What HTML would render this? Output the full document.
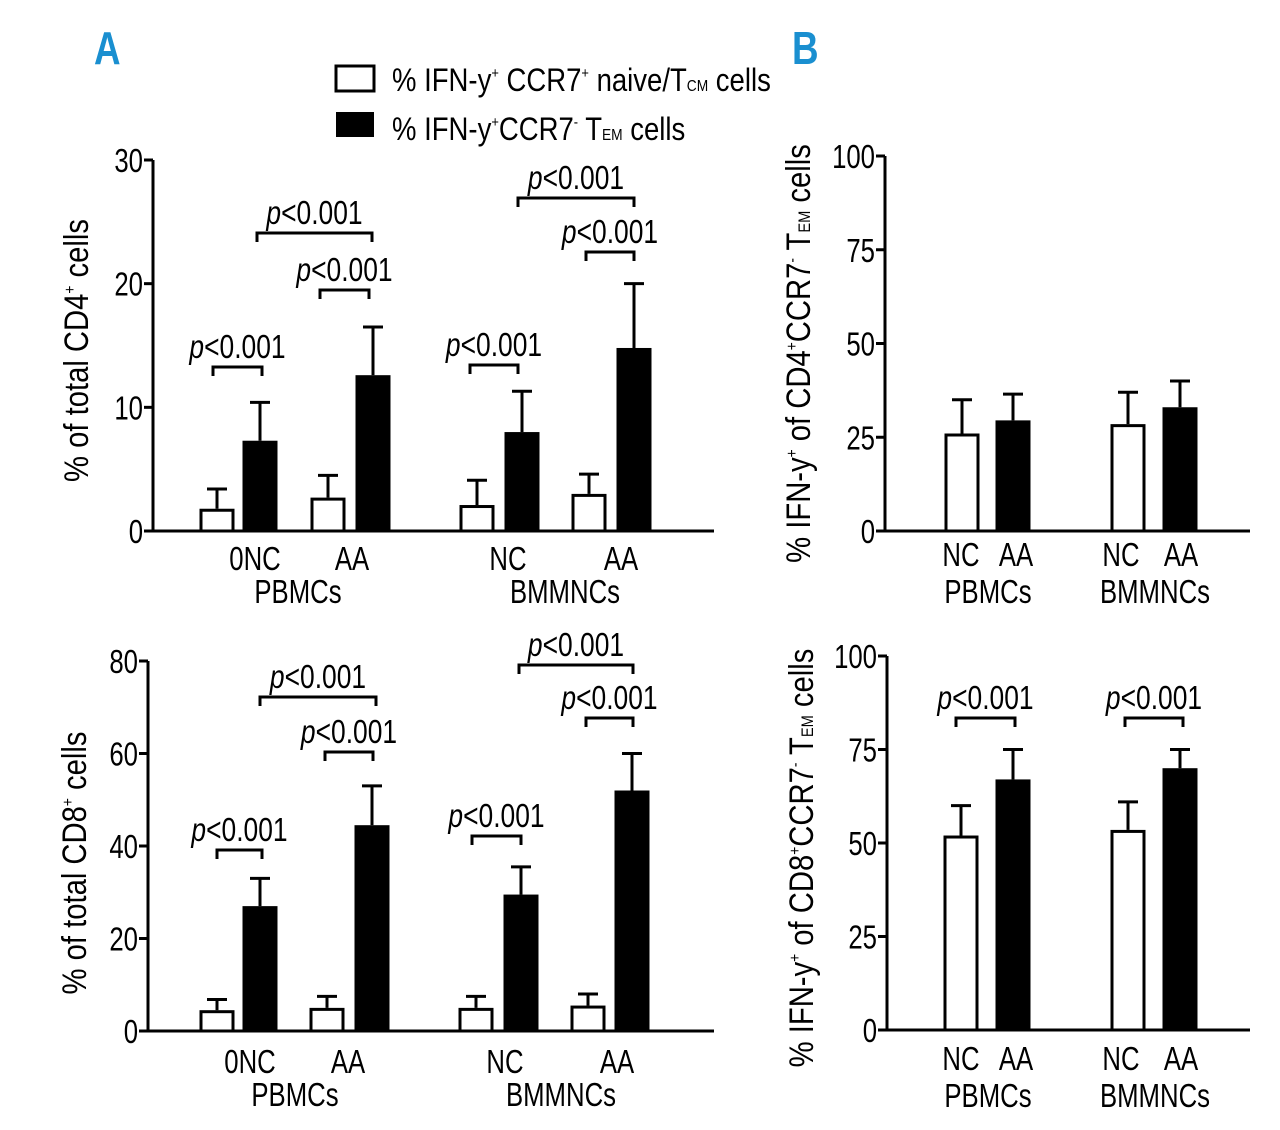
<!DOCTYPE html>
<html><head><meta charset="utf-8"><style>
body{margin:0;background:#fff}
svg{display:block;font-family:"Liberation Sans",sans-serif}
</style></head><body>
<svg id="fig" width="1280" height="1130" viewBox="0 0 1280 1130">
<text font-size="46" font-weight="bold" fill="#1a8fd0" transform="translate(94,64) scale(0.8,1)">A</text>
<text font-size="46" font-weight="bold" fill="#1a8fd0" transform="translate(792,64) scale(0.8,1)">B</text>
<g>
<rect x="336" y="66" width="38" height="25" fill="#fff" stroke="#000" stroke-width="3"/>
<rect x="336" y="112" width="38" height="25" fill="#000"/>
<text transform="translate(392,91) scale(0.86,1)" font-size="32">% IFN-y<tspan font-size="15" dy="-13">+</tspan><tspan dy="13"> CCR7</tspan><tspan font-size="15" dy="-13">+</tspan><tspan dy="13"> naive/T</tspan><tspan font-size="16">CM</tspan> cells</text>
<text transform="translate(392,140) scale(0.86,1)" font-size="32">% IFN-y<tspan font-size="15" dy="-13">+</tspan><tspan dy="13">CCR7</tspan><tspan font-size="15" dy="-13">-</tspan><tspan dy="13"> T</tspan><tspan font-size="16">EM</tspan> cells</text>
</g>
</svg>
<script>
// Data arrays
const cd4Open=[1.8,2.7,2.1,3.0], cd4OpenErr=[3.4,4.5,4.1,4.6];
const cd4Filled=[7.3,12.6,8.0,14.8], cd4FilledErr=[10.4,16.5,11.3,20.0];
const cd8Open=[4.5,5.0,5.0,5.5], cd8OpenErr=[6.8,7.5,7.5,8.0];
const cd8Filled=[27,44.5,29.5,52], cd8FilledErr=[33,53,35.5,60];
const temCd4Open=[26,28.5], temCd4OpenErr=[35,37];
const temCd4Filled=[29.5,33], temCd4FilledErr=[36.5,40];
const temCd8Open=[52,53.5], temCd8OpenErr=[60,61];
const temCd8Filled=[67,70], temCd8FilledErr=[75,75];
const ticksA1=[0,10,20,30], ticksA2=[0,20,40,60,80], ticksB=[0,25,50,75,100];

const NS="http://www.w3.org/2000/svg";
const svg=document.getElementById('fig');
function el(tag,attrs,parent){const e=document.createElementNS(NS,tag);for(const k in attrs)e.setAttribute(k,attrs[k]);(parent||svg).appendChild(e);return e;}
function txt(x,y,s,size,anchor,parent,rot,sx){
  const t=el('text',{transform:`translate(${x},${y})${rot?' rotate(-90)':''} scale(${sx||0.8},1)`,'font-size':size,'text-anchor':anchor||'middle'},parent);
  t.innerHTML=s;return t;}

function panel(cfg){
  const g=el('g',{});
  
  
  const y=v=>cfg.y0-(v/cfg.max)*(cfg.y0-cfg.yTop);
  const ax=el('path',{d:`M${cfg.ax},${cfg.yTop}V${cfg.y0}H${cfg.xEnd}`,stroke:'#000','stroke-width':3,fill:'none'},g);
  
  
  cfg.ticks.forEach(t=>{
    el('line',{x1:cfg.ax-9,x2:cfg.ax,y1:y(t),y2:y(t),stroke:'#000','stroke-width':3},g);
    const l=txt(cfg.ax-10,y(t)+12,String(t),33,'end',g,false,0.78);
    
    
  });
  const bw=35;
  function bar(cx,v,e,filled){
    el('line',{x1:cx,x2:cx,y1:y(v),y2:y(e),stroke:'#000','stroke-width':3},g);
    el('line',{x1:cx-10,x2:cx+10,y1:y(e),y2:y(e),stroke:'#000','stroke-width':3},g);
    const r=el('rect',{x:cx-bw/2+(filled?0:1.5),y:y(v)+(filled?0:1.5),width:filled?bw:bw-3,height:cfg.y0-y(v)-(filled?0:1.5),fill:filled?'#000':'#fff',stroke:filled?'none':'#000','stroke-width':3},g);
    
    
  }
  cfg.open.forEach((v,i)=>bar(cfg.openX[i],v,cfg.openErr[i],false));
  cfg.filled.forEach((v,i)=>bar(cfg.filledX[i],v,cfg.filledErr[i],true));
  cfg.labels.forEach(l=>{const t=txt(l[0],l[1]+2,l[2],33,'middle',g,false,0.78);
    
    });
  cfg.brackets.forEach(b=>{
    const p=el('path',{d:`M${b[0]},${b[2]+9}V${b[2]}H${b[1]}V${b[2]+9}`,stroke:'#000','stroke-width':3,fill:'none'},g);
    
    
    const t=txt((b[0]+b[1])/2,b[2]-9,'<tspan font-style="italic">p</tspan>&lt;0.001',33,'middle',g,false,0.8);
    
    
  });
  const yt=txt(cfg.titleX,(cfg.yTop+cfg.y0)/2+cfg.titleDy,cfg.title,cfg.tsize||33,'middle',g,true,0.86);
  
  
}
const sup=s=>`<tspan font-size="16" dy="-13">${s}</tspan><tspan dy="13">`;
panel({name:'chart-cd4',ax:153,yTop:160,y0:531,xEnd:714,max:30,ticks:ticksA1,
 open:cd4Open,openErr:cd4OpenErr,filled:cd4Filled,filledErr:cd4FilledErr,
 openX:[217,328,477,589],filledX:[260,373,522,634],
 labels:[[255,568,'0NC'],[352,568,'AA'],[298,601,'PBMCs'],[508,568,'NC'],[621,568,'AA'],[565,601,'BMMNCs']],
 brackets:[[213,262,367],[320,369,290],[257,372,233],[470,518,365],[586,634,252],[518,634,198]],
 title:`% of total CD4${sup('+')} cells</tspan>`,titleX:88,titleDy:5,tsize:34});
panel({name:'chart-cd8',ax:148,yTop:661,y0:1031,xEnd:714,max:80,ticks:ticksA2,
 open:cd8Open,openErr:cd8OpenErr,filled:cd8Filled,filledErr:cd8FilledErr,
 openX:[217,327,476,588],filledX:[260,372,521,632],
 labels:[[250,1071,'0NC'],[348,1071,'AA'],[295,1104,'PBMCs'],[505,1071,'NC'],[617,1071,'AA'],[561,1104,'BMMNCs']],
 brackets:[[217,262,850],[325,373,752],[260,376,697],[472,521,836],[586,633,718],[519,633,665]],
 title:`% of total CD8${sup('+')} cells</tspan>`,titleX:86,titleDy:17,tsize:34});
panel({name:'chart-cd4-tem',ax:885,yTop:156,y0:531,xEnd:1250,max:100,ticks:ticksB,
 open:temCd4Open,openErr:temCd4OpenErr,filled:temCd4Filled,filledErr:temCd4FilledErr,
 openX:[962,1128],filledX:[1013,1180],
 labels:[[961,564,'NC'],[1016,564,'AA'],[988,601,'PBMCs'],[1121,564,'NC'],[1181,564,'AA'],[1155,601,'BMMNCs']],
 brackets:[],
 title:`% IFN-y${sup('+')} of CD4${sup('+')}CCR7${sup('-')} T<tspan font-size="17">EM</tspan> cells</tspan></tspan></tspan>`,titleX:810,titleDy:10,tsize:34});
panel({name:'chart-cd8-tem',ax:887,yTop:656,y0:1030,xEnd:1250,max:100,ticks:ticksB,
 open:temCd8Open,openErr:temCd8OpenErr,filled:temCd8Filled,filledErr:temCd8FilledErr,
 openX:[961,1128],filledX:[1013,1180],
 labels:[[961,1068,'NC'],[1016,1068,'AA'],[988,1105,'PBMCs'],[1121,1068,'NC'],[1181,1068,'AA'],[1155,1105,'BMMNCs']],
 brackets:[[956,1015,718],[1125,1183,718]],
 title:`% IFN-y${sup('+')} of CD8${sup('+')}CCR7${sup('-')} T<tspan font-size="17">EM</tspan> cells</tspan></tspan></tspan>`,titleX:813,titleDy:15,tsize:34});
</script>
</body></html>
